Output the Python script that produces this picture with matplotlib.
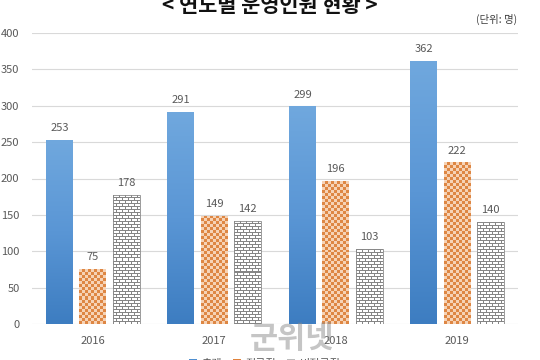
import matplotlib
matplotlib.use('Agg')
import matplotlib.pyplot as plt
import numpy as np
from matplotlib.colors import LinearSegmentedColormap, ListedColormap
from matplotlib.patches import Patch

plt.rcParams['font.family'] = ['Noto Sans CJK KR', 'DejaVu Sans']

years = ['2016', '2017', '2018', '2019']
total = [253, 291, 299, 362]
regular = [75, 149, 196, 222]
nonregular = [178, 142, 103, 140]
series_names = ['총계', '정규직', '비정규직']
title = '< 연도별 운영인원 현황 >'
unit = '(단위: 명)'

fig = plt.figure(figsize=(5.4, 3.6), dpi=100)
ax = fig.add_axes([32/540, 36/360, 486/540, 291/360])
ax.set_xlim(-0.5, 3.5)
ax.set_ylim(0, 400)

x = np.arange(len(years))
w = 0.222
off = 0.274

b1 = ax.bar(x - off, total, w, color='none', edgecolor='none', zorder=2)
b2 = ax.bar(x, regular, w, color='none', edgecolor='none', zorder=2)
b3 = ax.bar(x + off, nonregular, w, color='none', edgecolor='#8a8a8a', linewidth=0.6, zorder=4)

fig.canvas.draw()
p0 = ax.transData.transform((0, 0))
p1 = ax.transData.transform((1, 1))
px_x = p1[0] - p0[0]
px_y = p1[1] - p0[1]

blue_cmap = LinearSegmentedColormap.from_list('b', ['#3d7dc1', '#5a96d5', '#70a8de'])
for r in b1:
    x0, y0, wd, ht = r.get_x(), r.get_y(), r.get_width(), r.get_height()
    grad = np.linspace(0, 1, 256).reshape(-1, 1)
    im = ax.imshow(grad, extent=[x0, x0 + wd, y0, y0 + ht], cmap=blue_cmap,
                   aspect='auto', origin='lower', zorder=2, interpolation='bilinear')
    im.set_clip_path(r)

check_cmap = ListedColormap(['#f6d3b6', '#de8744'])
for r in b2:
    x0, y0, wd, ht = r.get_x(), r.get_y(), r.get_width(), r.get_height()
    nx = max(1, int(round(wd * px_x / 3)))
    ny = max(1, int(round(ht * px_y / 3)))
    ii, jj = np.indices((ny, nx))
    arr = ((ii + jj) % 2).astype(float)
    im = ax.imshow(arr, extent=[x0, x0 + wd, y0, y0 + ht], cmap=check_cmap,
                   aspect='auto', origin='upper', zorder=2, interpolation='nearest',
                   vmin=0, vmax=1)
    im.set_clip_path(r)

brick_cmap = ListedColormap(['#ffffff', '#858585'])
for r in b3:
    x0, y0, wd, ht = r.get_x(), r.get_y(), r.get_width(), r.get_height()
    nx = max(1, int(round(wd * px_x)))
    ny = max(1, int(round(ht * px_y)))
    ii, jj = np.indices((ny, nx))
    row = ii // 3
    arr = np.zeros((ny, nx))
    arr[ii % 3 == 0] = 1
    arr[((jj + (row % 2) * 3) % 6 == 0)] = 1
    im = ax.imshow(arr, extent=[x0, x0 + wd, y0, y0 + ht], cmap=brick_cmap,
                   aspect='auto', origin='upper', zorder=2, interpolation='nearest',
                   vmin=0, vmax=1)
    im.set_clip_path(r)

for bars, vals in ((b1, total), (b2, regular), (b3, nonregular)):
    for r, v in zip(bars, vals):
        ax.annotate(str(v), (r.get_x() + r.get_width() / 2, v), xytext=(0, 5),
                    textcoords='offset points', ha='center', va='bottom',
                    fontsize=8, color='#595959')

ax.set_xlim(-0.5, 3.5)
ax.set_ylim(0, 400)
ax.set_yticks(np.arange(0, 401, 50))
ax.set_xticks(x)
ax.set_xticklabels(years)
ax.tick_params(axis='both', length=0, labelsize=8, colors='#595959')
ax.tick_params(axis='x', pad=9)
ax.tick_params(axis='y', pad=9)
ax.grid(axis='y', color='#d9d9d9', linewidth=0.8, zorder=0)
ax.set_axisbelow(True)
for s in ax.spines.values():
    s.set_visible(False)

fig.text(0.5, 1 - 6/360, title, ha='center', va='center', fontsize=15,
         fontweight='bold', color='#111111')
fig.text(497/540, 1 - 19/360, unit, ha='center', va='center', fontsize=7.5, color='#404040')

# watermark
fig.text(292/540, 1 - 339/360, '군위넷', ha='center', va='center', fontsize=22,
         fontweight='bold', color='#8c8c8c', alpha=0.5, zorder=10)

handles = [Patch(facecolor='#4f8fd0'), Patch(facecolor='#e0833c'), Patch(facecolor='#bbbbbb')]
fig.legend(handles, series_names, loc='center', bbox_to_anchor=(265/540, -4/360),
           ncol=3, frameon=False, fontsize=8, handlelength=0.7, handleheight=0.7,
           columnspacing=1.0, handletextpad=0.4, labelcolor='#595959')

fig.savefig('out.png', dpi=100)
